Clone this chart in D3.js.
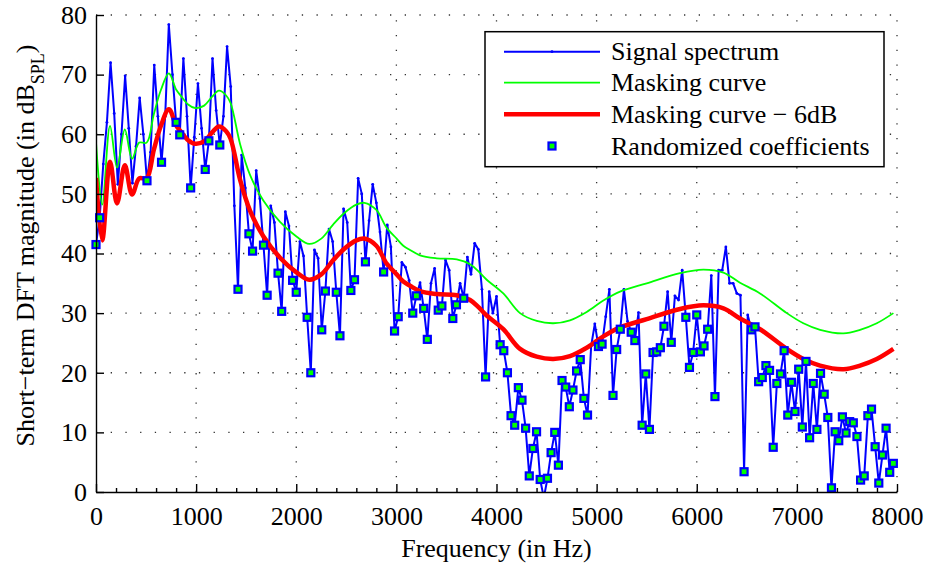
<!DOCTYPE html>
<html>
<head>
<meta charset="utf-8">
<script src="https://cdn.jsdelivr.net/npm/d3@7"></script>
<style>
  html, body { margin: 0; padding: 0; background: #fff; }
  svg { display: block; font-family: "Liberation Serif", "Times New Roman", Times, serif; }
</style>
</head>
<body>
<svg id="chart" width="926" height="569"></svg>
<script>
// Short-term DFT: fs = 16 kHz, N = 440 -> bin spacing in Hz
const binHz = 16000 / 440;

// Signal spectrum magnitude per DFT bin (dB SPL), bins 0..219
const spectrum = [
  41.5, 46.0, 55.0, 62.0, 72.0, 63.5, 51.6, 60.0, 69.8, 61.0,
  51.8, 58.0, 66.1, 60.0, 52.2, 57.0, 71.6, 63.0, 55.3, 63.0,
  78.4, 70.0, 62.0, 59.9, 72.7, 63.0, 51.0, 59.5, 68.5, 61.0,
  54.1, 58.9, 72.7, 64.0, 58.2, 63.0, 74.7, 68.0, 48.0, 34.0,
  56.5, 51.0, 43.3, 40.4, 53.9, 49.2, 41.4, 33.0, 48.0, 45.2,
  36.7, 30.3, 47.0, 44.6, 35.5, 33.5, 42.0, 39.6, 29.3, 20.0,
  40.6, 39.2, 27.2, 33.7, 44.1, 42.0, 33.5, 26.2, 47.5, 45.2,
  33.8, 35.6, 52.6, 50.0, 38.6, 45.5, 51.6, 48.5, 43.6, 36.9,
  44.8, 41.1, 27.0, 29.4, 38.5, 37.7, 35.5, 30.0, 32.9, 35.1,
  30.8, 25.6, 35.0, 37.5, 30.5, 31.2, 38.9, 37.2, 29.1, 31.4,
  35.0, 32.5, 39.4, 36.5, 41.7, 40.7, 34.0, 19.3, 33.6, 30.0,
  32.8, 24.7, 23.7, 20.0, 12.8, 11.2, 17.5, 15.4, 10.7, 2.7,
  7.3, 10.1, 2.1, -1.0, 2.3, 6.6, 10.0, 4.5, 18.7, 17.6,
  14.3, 17.1, 20.3, 22.2, 15.7, 12.9, 24.5, 28.2, 24.4, 24.8,
  29.4, 34.0, 16.2, 23.9, 27.3, 34.0, 28.6, 26.8, 25.4, 30.1,
  11.2, 19.8, 10.5, 23.4, 23.5, 24.2, 27.8, 33.6, 25.1, 32.9,
  32.2, 37.2, 29.3, 20.9, 23.4, 29.7, 23.5, 24.5, 27.3, 36.3,
  16.0, 37.2, 37.2, 41.1, 35.0, 35.0, 33.3, 33.0, 3.4, 29.7,
  27.2, 27.7, 18.5, 19.2, 21.2, 20.4, 7.5, 18.2, 19.8, 23.7,
  12.9, 18.4, 13.5, 20.6, 10.9, 21.9, 9.1, 18.2, 10.5, 19.9,
  16.4, 12.5, 0.7, 10.1, 8.6, 12.6, 9.9, 11.8, 11.6, 9.3,
  2.0, 2.7, 12.8, 13.9, 7.6, 1.5, 6.2, 10.7, 3.3, 4.8
];

// Bins whose coefficients were randomized (below the lowered masking curve)
const randomizedBins = [
  0, 1, 14, 18, 22, 23, 26, 30, 31, 34, 39, 42, 43, 46, 47, 50, 51, 54, 55,
  58, 59, 62, 63, 66, 67, 70, 71, 74, 79, 82, 83, 87, 88, 90, 91, 94, 95,
  98, 99, 101, 107,
  111, 112, 113, 114, 115, 116, 117, 118, 119, 120, 121, 122, 123,
  124, 125, 126, 127, 128, 129, 130, 131, 132, 133, 134, 135,
  138, 139, 142, 143, 144, 147, 148,
  150, 151, 152, 153, 154, 155, 156, 158,
  162, 163, 164, 165, 166, 167, 168, 170, 178,
  180, 181, 182, 183, 184, 185, 186, 187, 188, 189, 190, 191, 192, 193,
  194, 195, 196, 197, 198, 199, 200, 201, 202, 203, 204, 205, 206, 207,
  208, 209, 210, 211, 212, 213, 214, 215, 216, 217, 218, 219
];

// Masking curve (dB SPL) sampled at these frequencies (Hz)
const maskFreqs = [
  0, 62, 140, 210, 288, 360, 432, 506, 578, 650, 728, 800, 850, 920, 990,
  1080, 1160, 1228, 1300, 1345, 1440, 1538, 1671, 1838, 2005, 2130, 2250,
  2370, 2480, 2600, 2680, 2800, 2903, 3003, 3069, 3136, 3236, 3403, 3603,
  3736, 3820, 3902, 4068, 4235, 4402, 4568, 4734, 4901, 5067, 5234, 5500,
  5833, 6066, 6266, 6432, 6632, 6899, 7065, 7232, 7465, 7631, 7798, 7964
];
const maskValues = [
  58.7, 48.2, 61.4, 54.4, 60.8, 55.9, 58.6, 58.6, 63.4, 67.5, 70.2, 67.5, 66.4, 65.0, 64.4,
  64.8, 66.3, 67.3, 66.5, 65.2, 58.3, 53.2, 48.9, 45.3, 42.8, 41.6, 42.5,
  44.9, 46.8, 48.2, 48.5, 47.3, 44.3, 42.5, 41.3, 40.6, 39.7, 39.2, 39.0,
  38.2, 37.0, 35.6, 33.3, 30.0, 28.7, 28.3, 28.8, 30.2, 32.1, 33.6, 35.0,
  36.7, 37.3, 36.8, 35.1, 33.3, 30.0, 28.3, 27.2, 26.6, 27.2, 28.3, 30.0
];
const maskOffsetDb = 6;

const xTicks = [0, 1000, 2000, 3000, 4000, 5000, 6000, 7000, 8000];
const xMinorTicks = d3.range(0, 8001, 200).filter(v => v % 1000 !== 0);
const yTicks = [0, 10, 20, 30, 40, 50, 60, 70, 80];

const legendLabels = ["Signal spectrum", "Masking curve", "Masking curve \u2212 6dB", "Randomized coefficients"];

const BLUE = "#0000ff", GREEN = "#00ff00", RED = "#ff0000";

const svg = d3.select("#chart");
const plot = { left: 96, right: 897, top: 15, bottom: 492 };

const x = d3.scaleLinear().domain([0, 8000]).range([plot.left, plot.right]);
const y = d3.scaleLinear().domain([0, 80]).range([plot.bottom, plot.top]);

svg.append("defs").append("clipPath").attr("id", "plotClip")
  .append("rect")
  .attr("x", plot.left).attr("y", plot.top - 2)
  .attr("width", plot.right - plot.left + 2).attr("height", plot.bottom - plot.top + 2);

// dotted grid
const grid = svg.append("g").attr("stroke", "#333").attr("stroke-width", 1.3)
  .attr("stroke-dasharray", "1.3 13.4").attr("fill", "none");
xTicks.filter(t => t > 0).forEach(t => {
  grid.append("line").attr("x1", x(t)).attr("x2", x(t))
    .attr("y1", plot.bottom).attr("y2", plot.top);
});
yTicks.filter(t => t > 0).forEach(t => {
  grid.append("line").attr("x1", plot.left).attr("x2", plot.right)
    .attr("y1", y(t)).attr("y2", y(t));
});

const data = spectrum.map((v, i) => ({ f: i * binHz, v }));
const mask = maskFreqs.map((f, i) => ({ f, v: maskValues[i] }));
const maskLow = mask.map(d => ({ f: d.f, v: d.v - maskOffsetDb }));

const lines = svg.append("g").attr("clip-path", "url(#plotClip)");

const spectrumLine = d3.line().x(d => x(d.f)).y(d => y(d.v));
lines.append("path").datum(data)
  .attr("d", spectrumLine)
  .attr("fill", "none").attr("stroke", BLUE).attr("stroke-width", 2)
  .attr("stroke-linejoin", "round");
lines.append("g").selectAll("circle").data(data).join("circle")
  .attr("cx", d => x(d.f)).attr("cy", d => y(d.v)).attr("r", 1.4).attr("fill", BLUE);

const smoothLine = d3.line().x(d => x(d.f)).y(d => y(d.v)).curve(d3.curveCatmullRom.alpha(0.5));
lines.append("path").datum(mask)
  .attr("d", smoothLine)
  .attr("fill", "none").attr("stroke", GREEN).attr("stroke-width", 1.8);
lines.append("path").datum(maskLow)
  .attr("d", smoothLine)
  .attr("fill", "none").attr("stroke", RED).attr("stroke-width", 4.5)
  .attr("stroke-linejoin", "round");

// randomized coefficients
const sq = 7;
svg.append("g").selectAll("rect")
  .data(randomizedBins.map(i => data[i]).filter(d => d.v >= 0))
  .join("rect")
  .attr("x", d => x(d.f) - sq / 2).attr("y", d => y(d.v) - sq / 2)
  .attr("width", sq).attr("height", sq)
  .attr("fill", GREEN).attr("stroke", BLUE).attr("stroke-width", 2.2);

// axes (ticks pointing inward)
const fontSize = 26;
const xAxis = svg.append("g").attr("transform", `translate(0,${plot.bottom})`)
  .call(d3.axisBottom(x).tickValues(xTicks).tickSize(-8).tickSizeOuter(0).tickPadding(14.5).tickFormat(d3.format("d")));
const xMinor = svg.append("g").attr("transform", `translate(0,${plot.bottom})`)
  .call(d3.axisBottom(x).tickValues(xMinorTicks).tickSize(-4).tickSizeOuter(0).tickFormat(""));
xMinor.select(".domain").remove();
const yAxis = svg.append("g").attr("transform", `translate(${plot.left},0)`)
  .call(d3.axisLeft(y).tickValues(yTicks).tickSize(-8).tickSizeOuter(0).tickPadding(9).tickFormat(d3.format("d")));

[xAxis, xMinor, yAxis].forEach(g => {
  g.selectAll("path, line").attr("stroke", "#000").attr("stroke-width", 1.4);
  g.selectAll("text").attr("font-family", null).attr("font-size", fontSize).attr("fill", "#000");
});
xAxis.attr("font-family", null).attr("font-size", null);
yAxis.attr("font-family", null).attr("font-size", null);

// axis titles
svg.append("text")
  .attr("x", (plot.left + plot.right) / 2).attr("y", 557)
  .attr("text-anchor", "middle").attr("font-size", fontSize)
  .text("Frequency (in Hz)");

const yTitle = svg.append("text")
  .attr("transform", `translate(34,${(plot.top + plot.bottom) / 2 - 8}) rotate(-90)`)
  .attr("text-anchor", "middle").attr("font-size", fontSize);
yTitle.append("tspan").text("Short\u2212term DFT magnitude (in dB");
yTitle.append("tspan").attr("font-size", 18).attr("dy", 10).text("SPL");
yTitle.append("tspan").attr("dy", -10).text(")");

// legend
const lg = svg.append("g");
lg.append("rect").attr("x", 485).attr("y", 31.7).attr("width", 399).attr("height", 135)
  .attr("fill", "#fff").attr("stroke", "#000").attr("stroke-width", 1.5);
const rowsY = [51.7, 82.7, 114.3, 146];
const lx1 = 504, lx2 = 600, tx = 611;
lg.append("line").attr("x1", lx1).attr("x2", lx2).attr("y1", rowsY[0]).attr("y2", rowsY[0])
  .attr("stroke", BLUE).attr("stroke-width", 2);
lg.append("circle").attr("cx", (lx1 + lx2) / 2).attr("cy", rowsY[0]).attr("r", 1.4).attr("fill", BLUE);
lg.append("line").attr("x1", lx1).attr("x2", lx2).attr("y1", rowsY[1]).attr("y2", rowsY[1])
  .attr("stroke", GREEN).attr("stroke-width", 1.8);
lg.append("line").attr("x1", lx1).attr("x2", lx2).attr("y1", rowsY[2]).attr("y2", rowsY[2])
  .attr("stroke", RED).attr("stroke-width", 4.5);
lg.append("rect").attr("x", (lx1 + lx2) / 2 - sq / 2).attr("y", rowsY[3] - sq / 2)
  .attr("width", sq).attr("height", sq)
  .attr("fill", GREEN).attr("stroke", BLUE).attr("stroke-width", 2.2);
legendLabels.forEach((t, i) => {
  lg.append("text").attr("x", tx).attr("y", rowsY[i] + 8.5)
    .attr("font-size", fontSize).text(t);
});
</script>
</body>
</html>
